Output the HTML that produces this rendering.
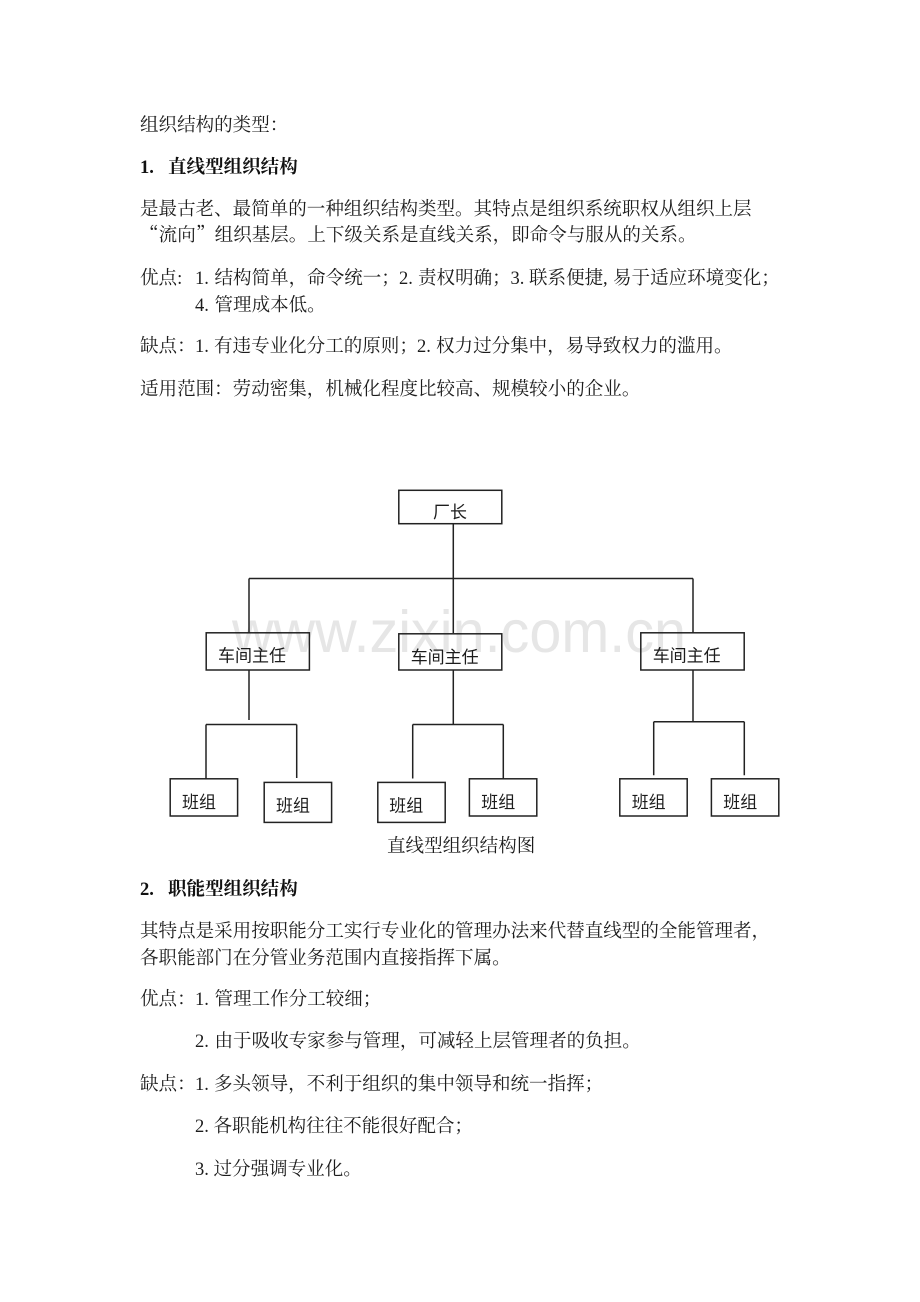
<!DOCTYPE html>
<html lang="zh-CN"><head><meta charset="utf-8"><title>组织结构的类型</title>
<style>
html,body{margin:0;padding:0;background:#fff;width:920px;height:1302px;overflow:hidden}
svg{display:block}
.t{font-family:"Liberation Serif","Noto Serif CJK SC",serif;font-size:18.55px;fill:#1c1c1c}
.b{font-family:"Liberation Serif","Noto Serif CJK SC",serif;font-size:18.55px;fill:#111;font-weight:700}
.q{font-family:"Noto Serif CJK SC",serif}
.d{font-family:"Liberation Sans","Noto Sans CJK SC",sans-serif;font-size:17px;fill:#1c1c1c}
.w{font-family:"Liberation Sans",sans-serif;font-size:59px;fill:#e6e6e6}
.r{fill:none;stroke:#222;stroke-width:1.5}
.l{fill:none;stroke:#222;stroke-width:1.5}
</style></head><body>
<svg xmlns="http://www.w3.org/2000/svg" width="920" height="1302" viewBox="0 0 920 1302">
<rect width="920" height="1302" fill="#fff"/>
<text class="w" x="232" y="652" textLength="454" lengthAdjust="spacingAndGlyphs">www.zixin.com.cn</text>

<text class="t" x="140" y="131">组织结构的类型：</text>
<text class="b" x="140" y="173">1.</text><text class="b" x="168" y="173">直线型组织结构</text>
<text class="t" x="140" y="215">是最古老、最简单的一种组织结构类型。其特点是组织系统职权从组织上层</text>
<text class="t" x="140" y="241"><tspan class="q">“</tspan><tspan x="158.67">流向</tspan><tspan class="q" x="196">”</tspan><tspan x="214.67">组织基层。上下级关系是直线关系，即命令与服从的关系。</tspan></text>
<text class="t" x="140" y="284">优点:</text><text class="t" x="195" y="284">1.</text><text class="t" x="214.5" y="284">结构简单，命令统一；</text><text class="t" x="399" y="284">2.</text><text class="t" x="418" y="284">责权明确；</text><text class="t" x="510.5" y="284">3.</text><text class="t" x="529" y="284">联系便捷</text><text class="t" x="603" y="284">,</text><text class="t" x="613" y="284">易于适应环境变化；</text>
<text class="t" x="195" y="311">4.</text><text class="t" x="214.5" y="311">管理成本低。</text>
<text class="t" x="140" y="352">缺点：</text><text class="t" x="195" y="352">1.</text><text class="t" x="214" y="352">有违专业化分工的原则；</text><text class="t" x="417" y="352">2.</text><text class="t" x="436" y="352">权力过分集中，易导致权力的滥用。</text>
<text class="t" x="140" y="395">适用范围：劳动密集，机械化程度比较高、规模较小的企业。</text>

<g class="l">
<path class="l" d="M453.3 524V633M249 578.5H693M249 578.5V633M693 578.5V633"/>
<path class="l" d="M249 670V720M206 724.5H296.7M206 724.5V778.5M296.7 724.5V778"/>
<path class="l" d="M453.3 670V724.5M412.7 724.5H503.3M412.7 724.5V778.5M503.3 724.5V778.5"/>
<path class="l" d="M693 670V721.7M653.7 721.7H744.3M653.7 721.7V775.3M744.3 721.7V775.3"/>
</g>
<rect class="r" x="398.8" y="490.3" width="103" height="33.4"/>
<rect class="r" x="206.2" y="632.8" width="103.2" height="37.2"/>
<rect class="r" x="398.8" y="633.8" width="103" height="36.2"/>
<rect class="r" x="640.8" y="632.8" width="103.4" height="37.2"/>
<rect class="r" x="170.2" y="778.8" width="67.4" height="37.2"/>
<rect class="r" x="264.2" y="782.4" width="67.4" height="40"/>
<rect class="r" x="377.8" y="782.4" width="67.4" height="40"/>
<rect class="r" x="469.4" y="778.8" width="67.4" height="37.2"/>
<rect class="r" x="619.8" y="778.8" width="67.4" height="37.2"/>
<rect class="r" x="711.4" y="778.8" width="67.4" height="37.2"/>

<text class="d" x="433" y="518">厂长</text>
<text class="d" x="218" y="661.5">车间主任</text>
<text class="d" x="410.7" y="663">车间主任</text>
<text class="d" x="652.7" y="661.5">车间主任</text>
<text class="d" x="182" y="808">班组</text>
<text class="d" x="276" y="811.5">班组</text>
<text class="d" x="389.3" y="811.5">班组</text>
<text class="d" x="481.3" y="808">班组</text>
<text class="d" x="631.7" y="808">班组</text>
<text class="d" x="723.3" y="808">班组</text>

<text class="t" x="387" y="852">直线型组织结构图</text>
<text class="b" x="140" y="895">2.</text><text class="b" x="168" y="895">职能型组织结构</text>
<text class="t" x="140" y="937">其特点是采用按职能分工实行专业化的管理办法来代替直线型的全能管理者，</text>
<text class="t" x="140" y="964">各职能部门在分管业务范围内直接指挥下属。</text>
<text class="t" x="140" y="1005">优点：</text><text class="t" x="195" y="1005">1.</text><text class="t" x="214.5" y="1005">管理工作分工较细；</text>
<text class="t" x="195" y="1047">2.</text><text class="t" x="214.5" y="1047">由于吸收专家参与管理，可减轻上层管理者的负担。</text>
<text class="t" x="140" y="1090">缺点：</text><text class="t" x="195" y="1090">1.</text><text class="t" x="214" y="1090">多头领导，不利于组织的集中领导和统一指挥；</text>
<text class="t" x="195" y="1132">2.</text><text class="t" x="213.5" y="1132">各职能机构往往不能很好配合；</text>
<text class="t" x="195" y="1175">3.</text><text class="t" x="213.5" y="1175">过分强调专业化。</text>
</svg>
</body></html>
